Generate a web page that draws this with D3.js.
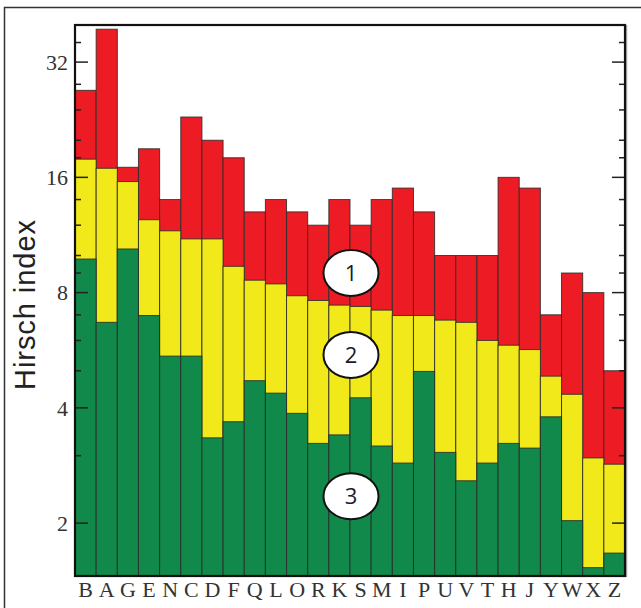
<!DOCTYPE html>
<html><head><meta charset="utf-8">
<script src="https://cdn.jsdelivr.net/npm/d3@7"></script>
<style>html,body{margin:0;padding:0;background:#fff;}svg{display:block;}</style>
</head><body>
<script>
const categories = ["B","A","G","E","N","C","D","F","Q","L","O","R","K","S","M","I","P","U","V","T","H","J","Y","W","X","Z"];
const level1 = [27, 39, 17, 19, 14, 23, 20, 18, 13, 14, 13, 12, 14, 12, 14, 15, 13, 10, 10, 10, 16, 15, 7, 9, 8, 5];
const level2 = [17.85, 16.9, 15.6, 12.4, 11.6, 11.05, 11.05, 9.37, 8.62, 8.43, 7.85, 7.63, 7.42, 7.36, 7.2, 6.97, 6.97, 6.78, 6.69, 6.0, 5.83, 5.68, 4.84, 4.34, 2.96, 2.85];
const level3 = [9.79, 6.69, 10.4, 6.97, 5.46, 5.46, 3.34, 3.68, 4.71, 4.37, 3.87, 3.23, 3.40, 4.25, 3.18, 2.87, 4.98, 3.06, 2.58, 2.87, 3.23, 3.14, 3.79, 2.03, 1.53, 1.67];
const majorTicks = [2, 4, 8, 16, 32];
const minorTicks = [3, 5, 6, 7, 9, 10, 12, 14, 18, 20, 24, 28, 36];
const yTitle = "Hirsch index";
const zoneLabels = ["1", "2", "3"];
const zoneValues = [9, 5.5, 2.35];

const W = 641, H = 608;
const m = {left: 75, right: 625, top: 25, bottom: 576};
const svg = d3.select("body").append("svg").attr("width", W).attr("height", H);

// outer frame
svg.append("rect").attr("x", 4.5).attr("y", 7.5).attr("width", 700).attr("height", 700)
  .attr("fill", "none").attr("stroke", "#333").attr("stroke-width", 1.5);

const x = d3.scaleBand().domain(categories).range([m.left, m.right]).padding(0);
const y = d3.scaleLog().base(2).domain([1.455, 40]).range([m.bottom, m.top]);

const colors = ["#ED1C24", "#F1E91A", "#11894A"];
const series = [level1, level2, level3];
series.forEach((vals, si) => {
  svg.append("g").selectAll("rect").data(vals).join("rect")
    .attr("x", (d, i) => x(categories[i]))
    .attr("width", x.bandwidth())
    .attr("y", d => y(d))
    .attr("height", d => m.bottom - y(d))
    .attr("fill", colors[si])
    .attr("stroke", "#2b2b2b").attr("stroke-opacity", 0.85).attr("stroke-width", 1);
});

// ticks inside, left and right
const tickG = svg.append("g").attr("stroke", "#222").attr("stroke-width", 1.5);
majorTicks.forEach(t => {
  tickG.append("line").attr("x1", m.left).attr("x2", m.left + 13).attr("y1", y(t)).attr("y2", y(t));
  tickG.append("line").attr("x1", m.right).attr("x2", m.right - 13).attr("y1", y(t)).attr("y2", y(t));
});
minorTicks.forEach(t => {
  tickG.append("line").attr("x1", m.left).attr("x2", m.left + 6).attr("y1", y(t)).attr("y2", y(t));
  tickG.append("line").attr("x1", m.right).attr("x2", m.right - 6).attr("y1", y(t)).attr("y2", y(t));
});

// plot frame
svg.append("line").attr("x1", m.right + 1.5).attr("x2", m.right + 1.5).attr("y1", m.top).attr("y2", m.bottom + 1)
  .attr("stroke", "#aaa").attr("stroke-width", 1.5);
svg.append("rect").attr("x", m.left).attr("y", m.top).attr("width", m.right - m.left).attr("height", m.bottom - m.top)
  .attr("fill", "none").attr("stroke", "#111").attr("stroke-width", 2.2);

// tick labels
svg.append("g").selectAll("text").data(majorTicks).join("text")
  .attr("x", m.left - 7).attr("y", d => y(d)).attr("dy", "0.35em")
  .attr("text-anchor", "end")
  .attr("font-family", "Liberation Serif, serif").attr("font-size", 22).attr("fill", "#333")
  .text(d => d);

// x labels
svg.append("g").selectAll("text").data(categories).join("text")
  .attr("x", d => x(d) + x.bandwidth() / 2).attr("y", 597)
  .attr("text-anchor", "middle")
  .attr("font-family", "Liberation Serif, serif").attr("font-size", 22).attr("fill", "#333")
  .text(d => d);

// y title
svg.append("text").attr("transform", "translate(35,305) rotate(-90)")
  .attr("text-anchor", "middle")
  .attr("font-family", "Liberation Sans, Arial, sans-serif").attr("font-size", 29).attr("fill", "#222")
  .attr("textLength", 170).attr("lengthAdjust", "spacing")
  .text(yTitle);

// zone labels
const zx = x("S") + 1;
const zg = svg.append("g").selectAll("g").data(zoneLabels).join("g")
  .attr("transform", (d, i) => `translate(${zx},${y(zoneValues[i])})`);
zg.append("ellipse").attr("rx", 27.5).attr("ry", 23).attr("fill", "#fff").attr("stroke", "#111").attr("stroke-width", 2);
zg.append("text").attr("text-anchor", "middle").attr("dy", "0.36em")
  .attr("font-family", "Open Sans, Liberation Sans, sans-serif").attr("font-size", 22).attr("fill", "#1a1a2a")
  .text(d => d);
</script>
</body></html>
